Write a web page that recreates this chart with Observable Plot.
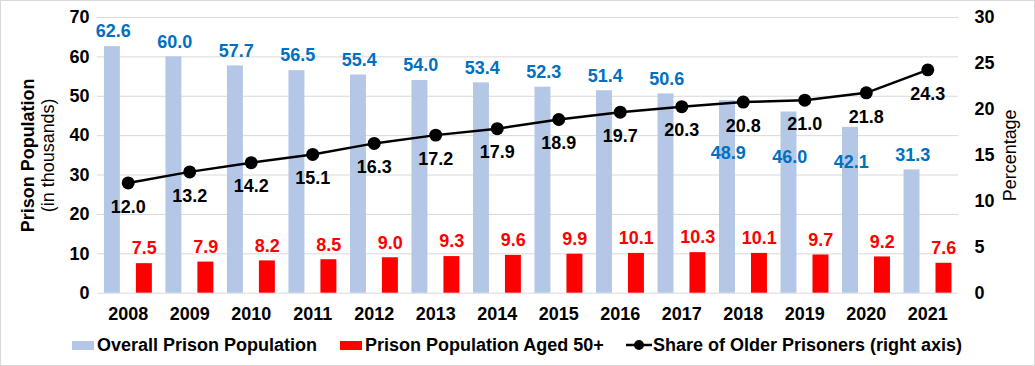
<!DOCTYPE html>
<html>
<head>
<meta charset="utf-8">
<script src="https://cdn.jsdelivr.net/npm/d3@7"></script>
<script src="https://cdn.jsdelivr.net/npm/@observablehq/plot@0.6"></script>
<style>
  html, body { margin: 0; padding: 0; background: #fff; }
  #frame { position: relative; width: 1033px; height: 364px; border: 1px solid #d9d9d9; overflow: hidden; font-family: "Liberation Sans", Arial, sans-serif; }
  #chart { position: absolute; left: -1px; top: -1px; }
  .leg { position: absolute; top: 334px; font-weight: bold; font-size: 18px; color: #000; white-space: nowrap; line-height: 20px; }
  .sw { position: absolute; }
</style>
</head>
<body>
<div id="frame">
  <div id="chart"></div>
  <div id="legend"></div>
</div>
<script>
const years = ["2008","2009","2010","2011","2012","2013","2014","2015","2016","2017","2018","2019","2020","2021"];
const overall = [62.6, 60.0, 57.7, 56.5, 55.4, 54.0, 53.4, 52.3, 51.4, 50.6, 48.9, 46.0, 42.1, 31.3];
const older = [7.5, 7.9, 8.2, 8.5, 9.0, 9.3, 9.6, 9.9, 10.1, 10.3, 10.1, 9.7, 9.2, 7.6];
const share = [12.0, 13.2, 14.2, 15.1, 16.3, 17.2, 17.9, 18.9, 19.7, 20.3, 20.8, 21.0, 21.8, 24.3];
const leftTicks = [0, 10, 20, 30, 40, 50, 60, 70];
const rightTicks = [0, 5, 10, 15, 20, 25, 30];
const seriesNames = ["Overall Prison Population", "Prison Population Aged 50+", "Share of Older Prisoners (right axis)"];

const leftMax = 70, rightMax = 30;
const toLeft = v => v * leftMax / rightMax;

const rows = years.map((y, i) => ({year: y, overall: overall[i], older: older[i], share: share[i], shareL: toLeft(share[i])}));

// label placement tweaks (pixels) for overall labels that sit inside the bars
const insideLabels = [{year: "2018", dy: 53}, {year: "2019", dy: 45}, {year: "2020", dy: 35}];
const insideSet = new Set(insideLabels.map(d => d.year));

const FONT = "Liberation Sans, Arial, sans-serif";
const BLUE = "#b4c7e7", RED = "#ff0000", LBLUE = "#0070c0";
const FS = 18;

const overallText = (r, dy) => Plot.text(r, {x: "year", y: "overall", text: d => d.overall.toFixed(1), dx: -15, dy, fill: LBLUE, fontSize: FS, fontWeight: "bold", lineAnchor: "middle"});

const plot = Plot.plot({
  width: 1035,
  height: 325,
  marginLeft: 97,
  marginRight: 76,
  marginTop: 17,
  marginBottom: 32,
  style: {fontFamily: FONT, background: "transparent", overflow: "visible"},
  x: {type: "band", domain: years, padding: 0, round: false},
  y: {domain: [0, leftMax]},
  marks: [
    Plot.ruleY(leftTicks, {stroke: "#d9d9d9", strokeWidth: 1}),
    Plot.barY(rows, {x: "year", y: "overall", fill: BLUE, insetLeft: 7, insetRight: 38.6}),
    Plot.barY(rows, {x: "year", y: "older", fill: RED, insetLeft: 39, insetRight: 6.6}),
    overallText(rows.filter(d => !insideSet.has(d.year)), -15),
    ...insideLabels.map(l => overallText(rows.filter(d => d.year === l.year), l.dy)),
    Plot.text(rows, {x: "year", y: "older", text: d => d.older.toFixed(1), dx: 16, dy: -15, fill: RED, fontSize: FS, fontWeight: "bold", lineAnchor: "middle"}),
    Plot.line(rows, {x: "year", y: "shareL", stroke: "#000", strokeWidth: 2.5}),
    Plot.dot(rows, {x: "year", y: "shareL", r: 6.5, fill: "#000"}),
    Plot.text(rows, {x: "year", y: "shareL", text: d => d.share.toFixed(1), dy: 24, fill: "#000", fontSize: FS, fontWeight: "bold", lineAnchor: "middle"}),
    Plot.axisX({tickSize: 0, tickPadding: 14, fontSize: FS, fontWeight: "bold", label: null, color: "#000"}),
    Plot.axisY({ticks: leftTicks, tickSize: 0, tickPadding: 8, fontSize: FS, fontWeight: "bold", label: null, anchor: "left", color: "#000"}),
    Plot.axisY({ticks: rightTicks.map(toLeft), tickFormat: d => String(Math.round(d * rightMax / leftMax)), tickSize: 0, tickPadding: 16, fontSize: FS, fontWeight: "bold", label: null, anchor: "right", color: "#000"}),
    Plot.text([0], {frameAnchor: "left", dx: -69, rotate: -90, textAnchor: "middle", text: () => "Prison Population", fontSize: FS, fontWeight: "bold", fill: "#000"}),
    Plot.text([0], {frameAnchor: "left", dx: -49, rotate: -90, textAnchor: "middle", text: () => "(in thousands)", fontSize: FS, fill: "#000"}),
    Plot.text([0], {frameAnchor: "right", dx: 52, rotate: -90, textAnchor: "middle", text: () => "Percentage", fontSize: FS, fill: "#000"})
  ]
});
document.getElementById("chart").appendChild(plot);

// legend
const leg = document.getElementById("legend");
const items = [
  {name: seriesNames[0], sw: `<div class="sw" style="left:71px;top:340px;width:22px;height:9px;background:${BLUE}"></div>`, x: 96},
  {name: seriesNames[1], sw: `<div class="sw" style="left:339px;top:340px;width:22px;height:9px;background:${RED}"></div>`, x: 364},
  {name: seriesNames[2], sw: `<svg class="sw" style="left:625px;top:336px" width="26" height="16"><line x1="0" y1="8" x2="26" y2="8" stroke="#000" stroke-width="2.5"/><circle cx="13" cy="8" r="5" fill="#000"/></svg>`, x: 652}
];
leg.innerHTML = items.map(it => it.sw + `<div class="leg" style="left:${it.x}px">${it.name}</div>`).join("");
</script>
</body>
</html>
